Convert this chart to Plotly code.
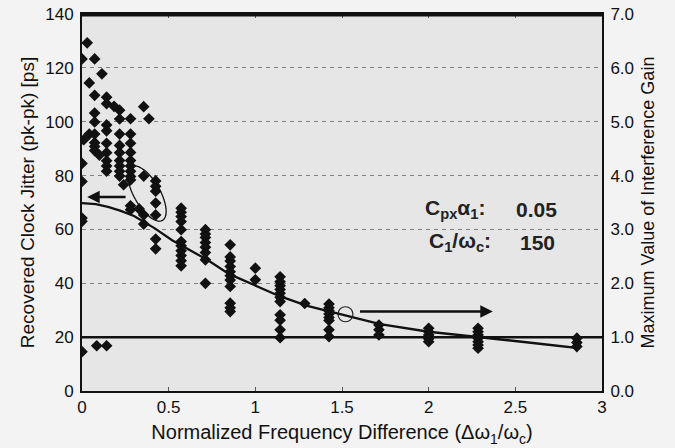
import numpy as np
import plotly.graph_objects as go

# ---------------- data ----------------
# measured jitter points (left axis, ps)
jit_x = (
    [0.0] * 6 + [0.01, 0.03] + [0.042] * 2 + [0.073] * 8 + [0.085, 0.10, 0.115]
    + [0.142] * 10 + [0.185] + [0.217] * 9 + [0.24] + [0.28] * 11 + [0.33]
    + [0.356] * 4 + [0.386] + [0.425] * 7 + [0.572] * 11 + [0.712] * 8
    + [0.855] * 11 + [1.0] * 2 + [1.143] * 11 + [1.285] + [1.425] * 8
    + [1.713] * 3 + [2.0] * 5 + [2.285] * 7 + [2.855] * 3
)
jit_y = (
    [123.3, 84.5, 77.8, 64.2, 63.0, 14.6] + [93.3, 129.3] + [114.4, 95.4]
    + [123.3, 109.8, 103.2, 99.9, 95.4, 92.2, 90.8, 89.3] + [16.8, 87.6, 117.8]
    + [109.1, 106.7, 98.8, 96.6, 92.0, 88.5, 85.5, 83.6, 81.6, 16.8] + [105.7]
    + [104.3, 101.0, 95.4, 91.2, 88.5, 85.6, 83.6, 81.6, 79.8] + [76.6]
    + [101.1, 95.4, 92.0, 88.6, 85.6, 83.6, 81.6, 79.7, 78.4, 68.8, 67.3] + [67.6]
    + [105.6, 79.8, 65.4, 62.0] + [101.1]
    + [78.0, 76.0, 74.2, 69.8, 65.4, 56.4, 52.8]
    + [67.9, 66.4, 64.8, 62.9, 59.9, 55.5, 53.9, 52.1, 50.3, 48.4, 46.5]
    + [59.9, 58.3, 57.0, 55.1, 53.4, 51.4, 48.7, 40.0]
    + [54.3, 49.8, 48.3, 46.2, 44.3, 42.8, 41.2, 38.8, 32.6, 30.9, 29.5]
    + [45.6, 41.3]
    + [42.4, 40.6, 39.1, 37.7, 36.3, 34.8, 33.2, 28.3, 26.3, 22.7, 19.8] + [32.5]
    + [32.3, 30.9, 29.8, 28.6, 27.3, 26.2, 22.7, 20.2]
    + [24.5, 22.7, 20.8]
    + [23.3, 22.0, 20.8, 19.4, 18.3]
    + [23.3, 22.0, 20.8, 19.6, 18.3, 17.1, 15.9]
    + [19.6, 18.0, 16.5]
)

# calculated maximum interference gain (right axis)
gain_x = [0, 0.08, 0.15, 0.22, 0.30, 0.36, 0.42, 0.52, 0.62, 0.72, 0.85, 0.94,
          1.03, 1.14, 1.30, 1.49, 1.72, 2.0, 2.28, 2.55, 2.855, 2.855]
gain_y = [3.49, 3.47, 3.42, 3.35, 3.25, 3.14, 3.02, 2.80, 2.62, 2.44, 2.17, 2.04,
          1.91, 1.76, 1.58, 1.42, 1.24, 1.10, 1.01, 0.91, 0.80, 0.98]

# unity gain reference line
unity_x = [0, 3]
unity_y = [1.0, 1.0]

x_ticks = [0, 0.5, 1, 1.5, 2, 2.5, 3]
x_ticktext = ["0", "0.5", "1", "1.5", "2", "2.5", "3"]
y_ticks = [0, 20, 40, 60, 80, 100, 120, 140]
y2_ticks = [0, 1, 2, 3, 4, 5, 6, 7]
y2_ticktext = ["0.0", "1.0", "2.0", "3.0", "4.0", "5.0", "6.0", "7.0"]

FONT = "Liberation Sans, Arial, sans-serif"
INK = "#111111"

fig = go.Figure()

fig.add_trace(go.Scatter(
    x=jit_x, y=jit_y, mode="markers",
    marker=dict(symbol="diamond", size=9, color="#111111"),
    showlegend=False, yaxis="y",
))
fig.add_trace(go.Scatter(
    x=unity_x, y=unity_y, mode="lines",
    line=dict(color="#111111", width=2.5),
    showlegend=False, yaxis="y2",
))
fig.add_trace(go.Scatter(
    x=gain_x, y=gain_y, mode="lines",
    line=dict(color="#111111", width=2.3),
    showlegend=False, yaxis="y2",
))

# ellipse around the points at x ~ 0.37 (drawn in pixel-space, converted to data)
px_per_x = 520 / 3.0
px_per_y = 377 / 140.0
cx, cy = 147 - 82, 391 - 193.5     # pixel offsets from plot origin
a, b = 31, 13
ux, uy = 0.50, -0.866              # major axis direction (screen down-right)
vx, vy = 0.866, 0.50
t = np.linspace(0, 2 * np.pi, 60)
ex = (cx + a * np.cos(t) * ux + b * np.sin(t) * vx) / px_per_x
ey = (cy + a * np.cos(t) * uy + b * np.sin(t) * vy) / px_per_y
path = "M " + " L ".join(f"{xx:.4f},{yy:.3f}" for xx, yy in zip(ex, ey)) + " Z"
shapes = [dict(type="path", path=path, xref="x", yref="y",
               line=dict(color="#111111", width=1.3))]

# small circle on the gain curve at x ~ 1.52
r = 7.5
ccx, ccy = 1.52, 28.5
shapes.append(dict(type="circle", xref="x", yref="y",
                   x0=ccx - r / px_per_x, x1=ccx + r / px_per_x,
                   y0=ccy - r / px_per_y, y1=ccy + r / px_per_y,
                   line=dict(color="#222222", width=1.2)))

# top frame line of the plot box
shapes.append(dict(type="line", xref="paper", yref="paper", x0=0, x1=1, y0=0.997, y1=0.997,
                   layer="above", line=dict(color="#111111", width=2.5)))

annotations = [
    dict(x=0.03, y=72.0, ax=0.26, ay=72.0, xref="x", yref="y", axref="x", ayref="y",
         showarrow=True, arrowhead=2, arrowsize=1, arrowwidth=2.5, arrowcolor="#111111", text=""),
    dict(x=2.37, y=29.5, ax=1.595, ay=29.5, xref="x", yref="y", axref="x", ayref="y",
         showarrow=True, arrowhead=2, arrowsize=1, arrowwidth=2.5, arrowcolor="#111111", text=""),
    dict(x=2.15, y=67.5, xref="x", yref="y", showarrow=False,
         text="<b>C<sub>px</sub>α<sub>1</sub>:</b>", font=dict(family=FONT, size=21, color="#222")),
    dict(x=2.62, y=67.5, xref="x", yref="y", showarrow=False,
         text="<b>0.05</b>", font=dict(family=FONT, size=21, color="#222")),
    dict(x=2.18, y=55.3, xref="x", yref="y", showarrow=False,
         text="<b>C<sub>1</sub>/ω<sub>c</sub>:</b>", font=dict(family=FONT, size=21, color="#222")),
    dict(x=2.63, y=55.3, xref="x", yref="y", showarrow=False,
         text="<b>150</b>", font=dict(family=FONT, size=21, color="#222")),
]

fig.update_layout(
    width=675, height=448,
    margin=dict(l=82, r=73, t=14, b=57, autoexpand=False),
    paper_bgcolor="#f3f3f3",
    plot_bgcolor="#e6e6e6",
    font=dict(family=FONT, size=16, color=INK),
    shapes=shapes,
    annotations=annotations,
    xaxis=dict(
        range=[0, 3], tickvals=x_ticks, ticktext=x_ticktext,
        showgrid=False, zeroline=False, automargin=False,
        showline=True, linecolor="#111111", linewidth=2, mirror="all",
        ticks="inside", ticklen=4, tickcolor="#555",
        tickfont=dict(size=17),
        title=dict(text="Normalized Frequency Difference (Δω<sub>1</sub>/ω<sub>c</sub>)",
                   font=dict(size=20), standoff=9),
    ),
    yaxis=dict(
        range=[0, 140], tickvals=y_ticks,
        showgrid=True, gridcolor="#808080", griddash="4px,4px", gridwidth=1,
        zeroline=False, automargin=False,
        showline=True, linecolor="#111111", linewidth=2,
        ticks="", tickfont=dict(size=17), ticklabelstandoff=3,
        title=dict(text="Recovered Clock Jitter (pk-pk) [ps]", font=dict(size=19), standoff=6),
    ),
    yaxis2=dict(
        range=[0, 7], tickvals=y2_ticks, ticktext=y2_ticktext,
        overlaying="y", side="right",
        showgrid=False, zeroline=False, automargin=False,
        showline=True, linecolor="#111111", linewidth=2,
        ticks="", tickfont=dict(size=17), ticklabelstandoff=3,
        title=dict(text="Maximum Value of Interference Gain", font=dict(size=18), standoff=8),
    ),
)

# remove the default 8px page margin so the figure sits at the window's top-left corner
fig.write_html(
    "out.html",
    config={"displayModeBar": False},
    post_script="document.body.style.margin='0';document.body.style.background='#f3f3f3';",
)
